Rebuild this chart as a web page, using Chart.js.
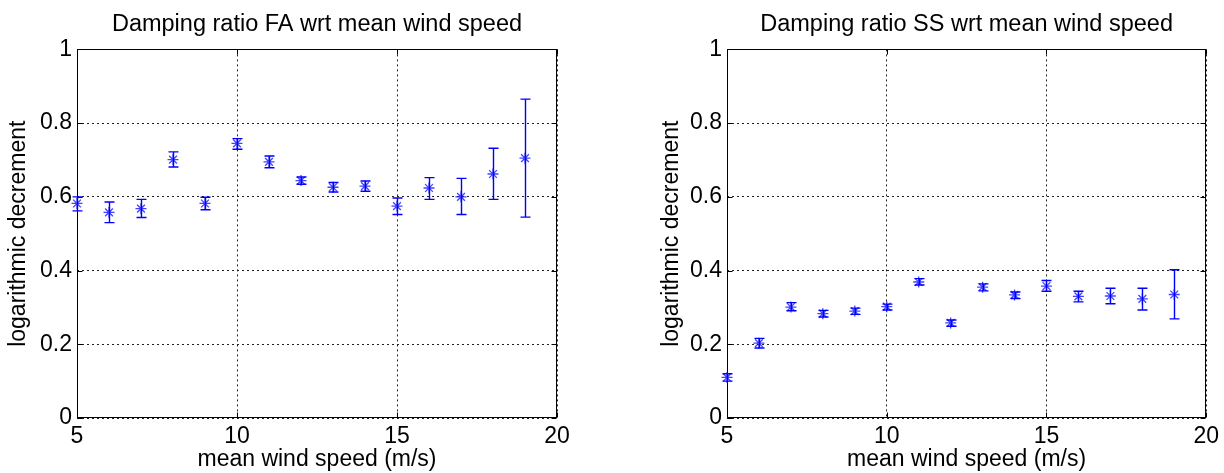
<!DOCTYPE html>
<html>
<head>
<meta charset="utf-8">
<title>Damping ratio vs mean wind speed</title>
<script src="https://cdn.jsdelivr.net/npm/chart.js@4.4.0/dist/chart.umd.min.js"></script>
<style>
  html, body { margin: 0; padding: 0; background: #fff; }
  .wrap { position: relative; width: 1224px; height: 473px; }
  .panel { position: absolute; top: 0; width: 612px; height: 473px; }
  #left { left: 0; }
  #right { left: 612px; }
</style>
</head>
<body>
<div class="wrap">
  <div class="panel" id="left"><canvas id="faChart" width="612" height="473"></canvas></div>
  <div class="panel" id="right"><canvas id="ssChart" width="612" height="473"></canvas></div>
</div>
<script>
// mean wind speed bins (m/s)
const windSpeed = [5, 6, 7, 8, 9, 10, 11, 12, 13, 14, 15, 16, 17, 18, 19];

// fore-aft log decrement: mean and error bar limits
const faMean = [0.582, 0.558, 0.568, 0.701, 0.582, 0.745, 0.695, 0.644, 0.626, 0.629, 0.575, 0.624, 0.600, 0.662, 0.705];
const faLow  = [0.562, 0.530, 0.544, 0.681, 0.565, 0.729, 0.679, 0.634, 0.613, 0.615, 0.552, 0.593, 0.552, 0.593, 0.545];
const faHigh = [0.600, 0.586, 0.593, 0.722, 0.599, 0.758, 0.711, 0.654, 0.639, 0.643, 0.597, 0.652, 0.650, 0.732, 0.865];

// side-side log decrement: mean and error bar limits
const ssMean = [0.110, 0.203, 0.301, 0.283, 0.290, 0.302, 0.369, 0.258, 0.355, 0.334, 0.358, 0.330, 0.331, 0.323, 0.335];
const ssLow  = [0.100, 0.190, 0.291, 0.274, 0.281, 0.293, 0.361, 0.249, 0.345, 0.324, 0.344, 0.315, 0.310, 0.293, 0.269];
const ssHigh = [0.120, 0.216, 0.313, 0.292, 0.298, 0.309, 0.378, 0.266, 0.364, 0.342, 0.373, 0.344, 0.352, 0.352, 0.402];

const xTicks = [5, 10, 15, 20];
const yTicks = [0, 0.2, 0.4, 0.6, 0.8, 1];

const FONT = 'Arial, "Liberation Sans", Helvetica, sans-serif';
Chart.defaults.font.family = FONT;
Chart.defaults.font.size = 23;
Chart.defaults.color = '#000';

// vertical error bars with caps, read from dataset.errLow / dataset.errHigh
const errorBars = {
    id: 'errorBars',
    afterDatasetsDraw(chart) {
        const { ctx, scales: { x, y } } = chart;
        const ds = chart.data.datasets[0];
        const cap = 5;
        ctx.save();
        ctx.strokeStyle = '#0000ff';
        ctx.lineWidth = 1.4;
        ds.data.forEach((pt, i) => {
            const px = Math.round(x.getPixelForValue(pt.x)) + 0.5;
            const top = y.getPixelForValue(ds.errHigh[i]);
            const bot = y.getPixelForValue(ds.errLow[i]);
            ctx.beginPath();
            ctx.moveTo(px, top);
            ctx.lineTo(px, bot);
            ctx.moveTo(px - cap, top);
            ctx.lineTo(px + cap, top);
            ctx.moveTo(px - cap, bot);
            ctx.lineTo(px + cap, bot);
            ctx.stroke();
        });
        ctx.restore();
    }
};

// solid box round the plot area with inward tick marks on all four sides
const axesBox = {
    id: 'axesBox',
    beforeDatasetsDraw(chart) {
        const { ctx, chartArea: a, scales: { x, y } } = chart;
        const len = 5;
        const l = Math.round(a.left) + 0.5, r = Math.round(a.right) - 0.5;
        const t = Math.round(a.top) + 0.5, b = Math.round(a.bottom) - 0.5;
        ctx.save();
        ctx.strokeStyle = '#000';
        ctx.lineWidth = 1;
        ctx.strokeRect(l, t, r - l, b - t);
        ctx.beginPath();
        xTicks.forEach(v => {
            const px = Math.round(x.getPixelForValue(v)) + 0.5;
            ctx.moveTo(px, b); ctx.lineTo(px, b - len);
            ctx.moveTo(px, t); ctx.lineTo(px, t + len);
        });
        yTicks.forEach(v => {
            const py = Math.round(y.getPixelForValue(v)) + 0.5;
            ctx.moveTo(l, py); ctx.lineTo(l + len, py);
            ctx.moveTo(r, py); ctx.lineTo(r - len, py);
        });
        ctx.stroke();
        ctx.restore();
    }
};

function makeChart(canvasId, title, mean, low, high, layout) {
    const ctx = document.getElementById(canvasId).getContext('2d');
    return new Chart(ctx, {
        type: 'scatter',
        data: {
            datasets: [{
                data: windSpeed.map((w, i) => ({ x: w, y: mean[i] })),
                errLow: low,
                errHigh: high,
                showLine: false,
                clip: false,
                pointStyle: 'star',
                pointRadius: 5.5,
                pointBorderWidth: 1.3,
                pointBorderColor: 'rgba(20, 20, 255, 0.8)',
                pointBackgroundColor: 'rgba(0, 0, 255, 0)'
            }]
        },
        options: {
            responsive: false,
            animation: false,
            layout: { padding: { left: 0, right: layout.right, top: 0, bottom: 0 } },
            plugins: {
                legend: { display: false },
                tooltip: { enabled: false },
                title: {
                    display: true,
                    text: title,
                    fullSize: false,
                    color: '#000',
                    font: { size: 23.5, weight: 'normal' },
                    padding: { top: 10, bottom: 11.2 }
                }
            },
            scales: {
                x: {
                    type: 'linear',
                    min: 5,
                    max: 20,
                    afterBuildTicks: s => { s.ticks = xTicks.map(v => ({ value: v })); },
                    afterFit: s => { s.height = 55; },
                    ticks: { padding: 5, maxRotation: 0, callback: v => String(v) },
                    grid: { color: '#222', lineWidth: 1, drawTicks: false },
                    border: { display: false, dash: [2, 3] },
                    title: {
                        display: true,
                        text: 'mean wind speed (m/s)',
                        padding: { top: 0, bottom: 0 }
                    }
                },
                y: {
                    type: 'linear',
                    min: 0,
                    max: 1,
                    afterBuildTicks: s => { s.ticks = yTicks.map(v => ({ value: v })); },
                    afterFit: s => { s.width = layout.axisWidth; },
                    ticks: { padding: 5, callback: v => String(v) },
                    grid: { color: '#222', lineWidth: 1, drawTicks: false },
                    border: { display: false, dash: [2, 3] },
                    title: {
                        display: true,
                        text: 'logarithmic decrement',
                        padding: { top: layout.titlePad, bottom: 0 }
                    }
                }
            }
        },
        plugins: [axesBox, errorBars]
    });
}

makeChart('faChart', 'Damping ratio FA wrt mean wind speed', faMean, faLow, faHigh,
    { right: 55, axisWidth: 77, titlePad: 5 });
makeChart('ssChart', 'Damping ratio SS wrt mean wind speed', ssMean, ssLow, ssHigh,
    { right: 17, axisWidth: 115, titlePad: 46 });
</script>
</body>
</html>
